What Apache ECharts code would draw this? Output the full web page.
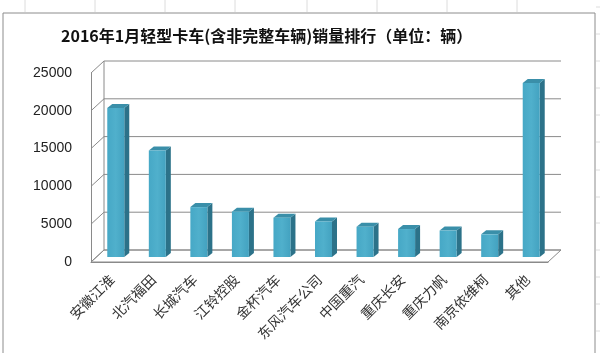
<!DOCTYPE html>
<html>
<head>
<meta charset="utf-8">
<script src="https://cdn.jsdelivr.net/npm/echarts@6/dist/echarts.min.js"></script>
<style>
  html, body { margin: 0; padding: 0; background: #fff; }
  #chart { width: 600px; height: 353px; }
</style>
</head>
<body>
<div id="chart"></div>
<script>
const categories = ['安徽江淮', '北汽福田', '长城汽车', '江铃控股', '金杯汽车', '东风汽车公司', '中国重汽', '重庆长安', '重庆力帆', '南京依维柯', '其他']
const sales = [19700, 14100, 6600, 6000, 5200, 4700, 4000, 3700, 3500, 3000, 23000]
const yTicks = [0, 5000, 10000, 15000, 20000, 25000]

// fake 3d: back wall offset and bar offset from the front plane
const BACK = [13, -12]
const BAR_SHIFT = [4, -5]
const BAR_W = 17
const BAR_D = [5, -4]

const chart = echarts.init(document.getElementById('chart'))

const lineStyle = { stroke: '#8a8a8a', lineWidth: 1 }

const renderWalls = (params, api) => {
  const cs = params.coordSys
  const left = cs.x
  const right = cs.x + cs.width
  const children = []
  const base = api.coord([0, 0])[1]
  // floor
  children.push({
    type: 'polygon',
    shape: { points: [[left, base], [right, base], [right + BACK[0], base + BACK[1]], [left + BACK[0], base + BACK[1]]] },
    style: { fill: '#fff', stroke: '#8a8a8a', lineWidth: 1 }
  })
  const top = api.coord([0, yTicks[yTicks.length - 1]])[1]
  // back wall left edge
  children.push({
    type: 'line',
    shape: { x1: left + BACK[0], y1: base + BACK[1], x2: left + BACK[0], y2: top + BACK[1] },
    style: lineStyle
  })
  yTicks.forEach(v => {
    const y = api.coord([0, v])[1]
    children.push({
      type: 'line',
      shape: { x1: left + BACK[0], y1: y + BACK[1], x2: right + BACK[0], y2: y + BACK[1] },
      style: lineStyle
    })
    children.push({
      type: 'line',
      shape: { x1: left, y1: y, x2: left + BACK[0], y2: y + BACK[1] },
      style: lineStyle
    })
  })
  return { type: 'group', children }
}

const renderBar = (params, api) => {
  const p0 = api.coord([api.value(0), 0])
  const p1 = api.coord([api.value(0), api.value(1)])
  const x0 = p0[0] + BAR_SHIFT[0] - BAR_W / 2
  const x1 = x0 + BAR_W
  const yb = p0[1] + BAR_SHIFT[1]
  const yt = p1[1] + BAR_SHIFT[1]
  return {
    type: 'group',
    children: [
      {
        type: 'polygon',
        shape: { points: [[x1, yt], [x1 + BAR_D[0], yt + BAR_D[1]], [x1 + BAR_D[0], yb + BAR_D[1]], [x1, yb]] },
        style: { fill: '#2c7289' }
      },
      {
        type: 'polygon',
        shape: { points: [[x0, yt], [x0 + BAR_D[0], yt + BAR_D[1]], [x1 + BAR_D[0], yt + BAR_D[1]], [x1, yt]] },
        style: { fill: '#3a8fa9' }
      },
      {
        type: 'rect',
        shape: { x: x0, y: yt, width: BAR_W, height: yb - yt },
        style: {
          fill: new echarts.graphic.LinearGradient(0, 0, 1, 0, [
            { offset: 0, color: '#46a8c6' },
            { offset: 0.5, color: '#50b0cc' },
            { offset: 1, color: '#43a2c0' }
          ])
        }
      }
    ]
  }
}

// spreadsheet cells peeking out round the chart frame
const sheetLines = []
;[25, 95, 165, 235, 307, 377, 447, 517].forEach(x => {
  sheetLines.push({ type: 'line', shape: { x1: x, y1: 0, x2: x, y2: 12 }, style: { stroke: '#dcdcdc', lineWidth: 1 } })
})
;[7, 34, 61, 88, 115, 142, 170, 197, 223, 250, 277, 304, 331].forEach(y => {
  sheetLines.push({ type: 'line', shape: { x1: 596, y1: y, x2: 600, y2: y }, style: { stroke: '#dcdcdc', lineWidth: 1 } })
})

const option = {
  animation: false,
  backgroundColor: '#fff',
  title: {
    text: '2016年1月轻型卡车(含非完整车辆)销量排行（单位：辆）',
    left: 56,
    top: 23,
    textStyle: {
      fontFamily: '"Noto Sans CJK SC", "DejaVu Serif"',
      fontSize: 16,
      fontWeight: 'bold',
      color: '#111'
    }
  },
  graphic: [
    ...sheetLines,
    {
      type: 'rect',
      shape: { x: 3, y: 13, width: 592, height: 350 },
      style: { fill: 'none', stroke: '#8c8c8c', lineWidth: 1 },
      z: -1
    }
  ],
  grid: {
    left: 91,
    right: 52,
    top: 73,
    bottom: 91
  },
  xAxis: {
    type: 'category',
    data: categories,
    axisLine: { lineStyle: { color: '#8a8a8a' } },
    axisTick: { length: 4, lineStyle: { color: '#8a8a8a' } },
    axisLabel: {
      interval: 0,
      rotate: 45,
      margin: 15,
      fontSize: 14,
      color: '#333',
      fontFamily: '"Noto Sans CJK SC"'
    }
  },
  yAxis: {
    type: 'value',
    min: 0,
    max: 25000,
    interval: 5000,
    axisLine: { show: true, lineStyle: { color: '#8a8a8a' } },
    axisTick: { show: false },
    splitLine: { show: false },
    axisLabel: {
      margin: 19,
      fontSize: 14,
      color: '#222',
      fontFamily: '"Liberation Sans", Arial',
      formatter: v => String(v)
    }
  },
  series: [
    {
      type: 'custom',
      renderItem: renderWalls,
      data: [[0, 0]],
      silent: true,
      z: 1
    },
    {
      type: 'custom',
      renderItem: renderBar,
      data: sales.map((v, i) => [i, v]),
      z: 2
    }
  ]
}

chart.setOption(option)
</script>
</body>
</html>
